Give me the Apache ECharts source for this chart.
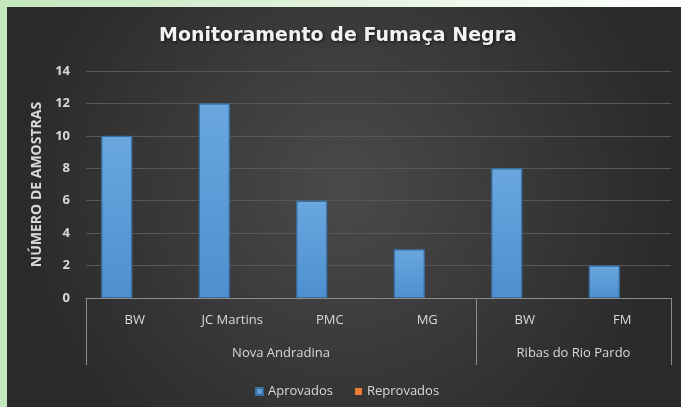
<!DOCTYPE html>
<html>
<head>
<meta charset="utf-8">
<script src="https://cdn.jsdelivr.net/npm/echarts@6/dist/echarts.min.js"></script>
<style>
  html, body { margin: 0; padding: 0; }
  body { width: 681px; height: 407px; overflow: hidden; background: linear-gradient(to right, #c3e6bd 0%, #e6f4e2 55%, #ffffff 100%); position: relative; }
  #chart { position: absolute; left: 7px; top: 7px; width: 674px; height: 400px; }
</style>
</head>
<body>
<div id="chart"></div>
<script>
// dados
var categorias = ['BW', 'JC Martins', 'PMC', 'MG', 'BW', 'FM'];
var grupos = ['Nova Andradina', 'Ribas do Rio Pardo'];
var tamanhoGrupos = [4, 2];
var aprovados = [10, 12, 6, 3, 8, 2];
var reprovados = [0, 0, 0, 0, 0, 0];
var yTicks = [0, 2, 4, 6, 8, 10, 12, 14];

// limites e centros dos grupos (em unidades de categoria)
var limites = [0];
var centros = [];
for (var i = 0; i < tamanhoGrupos.length; i = i + 1) {
    var ini = limites[limites.length - 1];
    limites.push(ini + tamanhoGrupos[i]);
    centros.push(ini + tamanhoGrupos[i] / 2);
}

var textColor = '#d9d9d9';
var fonte = 'Open Sans';

var chart = echarts.init(document.getElementById('chart'));
chart.setOption({
    backgroundColor: {
        type: 'radial', x: 0.5, y: 0.45, r: 0.8,
        colorStops: [{offset: 0, color: '#4a4a4a'}, {offset: 1, color: '#2b2b2b'}]
    },
    title: {
        text: 'Monitoramento de Fumaça Negra',
        left: 147,
        top: 15,
        textStyle: {
            color: '#f2f2f2',
            fontFamily: 'DejaVu Sans',
            fontWeight: 'bold',
            fontSize: 19,
            textShadowColor: 'rgba(0,0,0,0.7)',
            textShadowBlur: 3,
            textShadowOffsetX: 1,
            textShadowOffsetY: 1
        }
    },
    legend: {
        bottom: 4,
        left: 243,
        icon: 'rect',
        itemWidth: 7,
        itemHeight: 7,
        itemGap: 22,
        textStyle: {color: textColor, fontFamily: fonte, fontSize: 13},
        data: ['Aprovados', 'Reprovados']
    },
    grid: {left: 79, right: 10, top: 64, bottom: 109},
    xAxis: [
        {
            type: 'category',
            data: categorias,
            axisLine: {lineStyle: {color: '#8c8c8c', width: 1}},
            axisTick: {show: false},
            axisLabel: {color: textColor, fontFamily: fonte, fontSize: 13, margin: 16}
        },
        {
            type: 'value',
            min: 0,
            max: categorias.length,
            position: 'bottom',
            axisLine: {show: false},
            splitLine: {show: false},
            axisTick: {
                show: true,
                customValues: limites,
                length: 67,
                lineStyle: {color: '#8c8c8c', width: 1}
            },
            axisLabel: {
                show: true,
                customValues: centros,
                margin: 49,
                color: textColor,
                fontFamily: fonte,
                fontSize: 13,
                formatter: function (v) {
                    for (var k = 0; k < centros.length; k = k + 1) {
                        if (Math.abs(centros[k] - v) < 0.01) return grupos[k];
                    }
                    return '';
                }
            }
        }
    ],
    yAxis: {
        type: 'value',
        min: yTicks[0],
        max: yTicks[yTicks.length - 1],
        interval: 2,
        name: 'NÚMERO DE AMOSTRAS',
        nameLocation: 'middle',
        nameRotate: 90,
        nameGap: 40,
        nameTextStyle: {color: textColor, fontFamily: fonte, fontWeight: 'bold', fontSize: 14},
        axisLine: {show: false},
        axisTick: {show: false},
        axisLabel: {color: textColor, fontFamily: fonte, fontWeight: 'bold', fontSize: 13, margin: 16},
        splitLine: {lineStyle: {color: '#575757', width: 1}}
    },
    series: [
        {
            name: 'Aprovados',
            type: 'bar',
            data: aprovados,
            barWidth: 31,
            barGap: '16%',
            itemStyle: {
                color: {
                    type: 'linear', x: 0, y: 0, x2: 0, y2: 1,
                    colorStops: [{offset: 0, color: '#6aa7df'}, {offset: 1, color: '#4e8fd0'}]
                },
                borderColor: '#3a6e9f',
                borderWidth: 1
            }
        },
        {
            name: 'Reprovados',
            type: 'bar',
            data: reprovados,
            barWidth: 31,
            itemStyle: {color: '#ed7d31'}
        }
    ]
});
</script>
</body>
</html>
